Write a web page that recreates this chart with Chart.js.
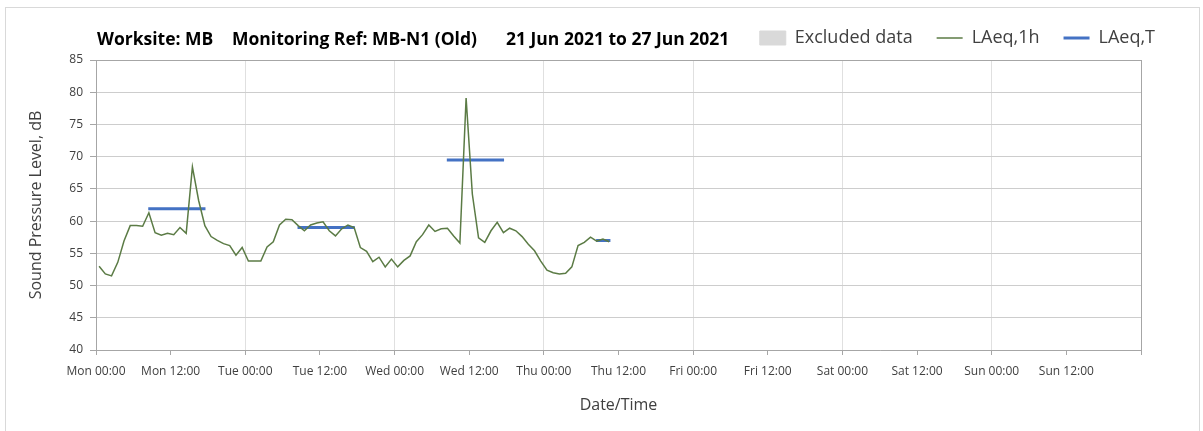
<!DOCTYPE html>
<html>
<head>
<meta charset="utf-8">
<script src="https://cdn.jsdelivr.net/npm/chart.js"></script>
<style>
  body { margin: 0; background: #fff; }
  #wrap { position: relative; width: 1203px; height: 431px; overflow: hidden; }
  #frame { position: absolute; left: 5px; top: 7px; width: 1193px; height: 440px; border: 1px solid #d9d9d9; }
  #my { position: absolute; left: 0; top: 0; }
  .ttl { position: absolute; top: 29px; font: bold 17.5px "Open Sans", sans-serif; line-height: 18px; color: #000; white-space: nowrap; }
</style>
</head>
<body>
<div id="wrap">
  <div id="frame"></div>
  <canvas id="my" width="1203" height="431"></canvas>
  <span class="ttl" style="left:97px">Worksite: MB</span>
  <span class="ttl" style="left:232px">Monitoring Ref: MB-N1 (Old)</span>
  <span class="ttl" style="left:506px">21 Jun 2021 to 27 Jun 2021</span>
</div>
<script>
// hourly LAeq,1h from Mon 00:00, one value per hour (dB)
var laeq1h = [53.0, 51.8, 51.5, 53.6, 56.9, 59.3, 59.3, 59.2, 61.3, 58.2, 57.8, 58.1,
    57.9, 59.0, 58.1, 68.4, 63.2, 59.3, 57.6, 57.0, 56.5, 56.2, 54.7, 55.9,
    53.8, 53.8, 53.8, 56.0, 56.8, 59.4, 60.3, 60.2, 59.3, 58.5, 59.4, 59.7,
    59.9, 58.5, 57.7, 58.8, 59.4, 59.0, 55.9, 55.3, 53.7, 54.4, 52.9, 54.1,
    52.9, 53.9, 54.6, 56.8, 57.9, 59.4, 58.4, 58.8, 58.9, 57.7, 56.6, 79.1,
    64.2, 57.4, 56.7, 58.5, 59.8, 58.2, 58.9, 58.5, 57.6, 56.4, 55.4, 53.8,
    52.4, 52.0, 51.8, 51.9, 52.9, 56.2, 56.7, 57.5, 56.9, 57.2, 56.8];

// LAeq,T periods (hours from Mon 00:00) and levels
var periodStart = [8.4, 32.4, 56.4, 80.4];
var periodEnd = [17.6, 41.6, 65.6, 82.7];
var laeqT = [61.9, 59.0, 69.5, 57.0];

var xTickLabels = ["Mon 00:00", "Mon 12:00", "Tue 00:00", "Tue 12:00", "Wed 00:00", "Wed 12:00",
    "Thu 00:00", "Thu 12:00", "Fri 00:00", "Fri 12:00", "Sat 00:00", "Sat 12:00", "Sun 00:00", "Sun 12:00"];

var hourlyPoints = laeq1h.map(function (v, i) { return {x: i + 0.5, y: v}; });
var periodPoints = [];
for (var i = 0; i < laeqT.length; i++) {
    periodPoints.push({x: periodStart[i], y: laeqT[i]});
    periodPoints.push({x: periodEnd[i], y: laeqT[i]});
    periodPoints.push({x: periodEnd[i] + 0.1, y: null});
}

var font = "'Open Sans', sans-serif";
var ctx = document.getElementById("my").getContext('2d');
var myChart = new Chart(ctx, {
    type: 'line',
    data: {
        datasets: [{
            label: 'Excluded data',
            data: [],
            pointStyle: 'rect',
            pointBackgroundColor: '#d9d9d9',
            pointBorderColor: '#d9d9d9',
            backgroundColor: '#d9d9d9',
            borderColor: '#d9d9d9'
        }, {
            label: 'LAeq,1h',
            data: hourlyPoints,
            borderColor: '#5b7b45',
            borderWidth: 1.5,
            pointRadius: 0,
            pointStyle: 'line',
            pointBorderColor: '#5b7b45',
            pointBorderWidth: 1.5,
            tension: 0
        }, {
            label: 'LAeq,T',
            data: periodPoints,
            borderColor: '#4472c4',
            borderWidth: 3,
            borderCapStyle: 'butt',
            pointRadius: 0,
            pointStyle: 'line',
            pointBorderColor: '#4472c4',
            pointBorderWidth: 3,
            spanGaps: false
        }]
    },
    options: {
        responsive: false,
        animation: false,
        layout: {padding: {left: 23, right: 24, top: 5, bottom: 16}},
        plugins: {
            tooltip: {enabled: false},
            legend: {
                display: true,
                position: 'top',
                align: 'end',
                labels: {
                    usePointStyle: true,
                    pointStyleWidth: 26,
                    boxHeight: 14,
                    padding: 24,
                    color: '#404040',
                    font: {family: font, size: 18}
                }
            }
        },
        scales: {
            x: {
                type: 'linear',
                min: 0,
                max: 168,
                afterFit: function (s) { s.height = 65; },
                ticks: {
                    stepSize: 12,
                    autoSkip: false,
                    maxRotation: 0,
                    padding: 9,
                    color: '#404040',
                    font: {family: font, size: 12},
                    callback: function (v) { return xTickLabels[v / 12] || ''; }
                },
                grid: {
                    tickLength: 5,
                    tickColor: '#a6a6a6',
                    color: function (c) {
                        if (!c.tick) return 'transparent';
                        if (c.tick.value === 168) return '#a6a6a6';
                        return c.tick.value % 24 === 0 ? '#e0e0e0' : 'transparent';
                    }
                },
                border: {color: '#a6a6a6'},
                title: {
                    display: true,
                    text: 'Date/Time',
                    color: '#404040',
                    font: {family: font, size: 16},
                    padding: {top: 4, bottom: 0}
                }
            },
            // spacer between legend and plot
            xTop: {
                type: 'linear',
                position: 'top',
                afterFit: function (s) { s.height = 3; },
                ticks: {display: false},
                grid: {drawOnChartArea: false, drawTicks: false},
                border: {display: false}
            },
            y: {
                min: 40,
                max: 85,
                afterFit: function (s) { s.width = 73; },
                ticks: {
                    stepSize: 5,
                    padding: 7,
                    color: '#404040',
                    font: {family: font, size: 12}
                },
                grid: {
                    tickLength: 6,
                    tickColor: '#a6a6a6',
                    color: function (c) {
                        return c.tick && c.tick.value === 85 ? '#a6a6a6' : '#cdcdcd';
                    }
                },
                border: {color: '#a6a6a6'},
                title: {
                    display: true,
                    text: 'Sound Pressure Level, dB',
                    color: '#404040',
                    font: {family: font, size: 16},
                    padding: {top: 4, bottom: 0}
                }
            },
            y2: {
                position: 'right',
                afterFit: function (s) { s.width = 38; },
                ticks: {display: false},
                grid: {drawOnChartArea: false, drawTicks: false},
                border: {color: '#a6a6a6'}
            }
        }
    }
});
</script>
</body>
</html>
